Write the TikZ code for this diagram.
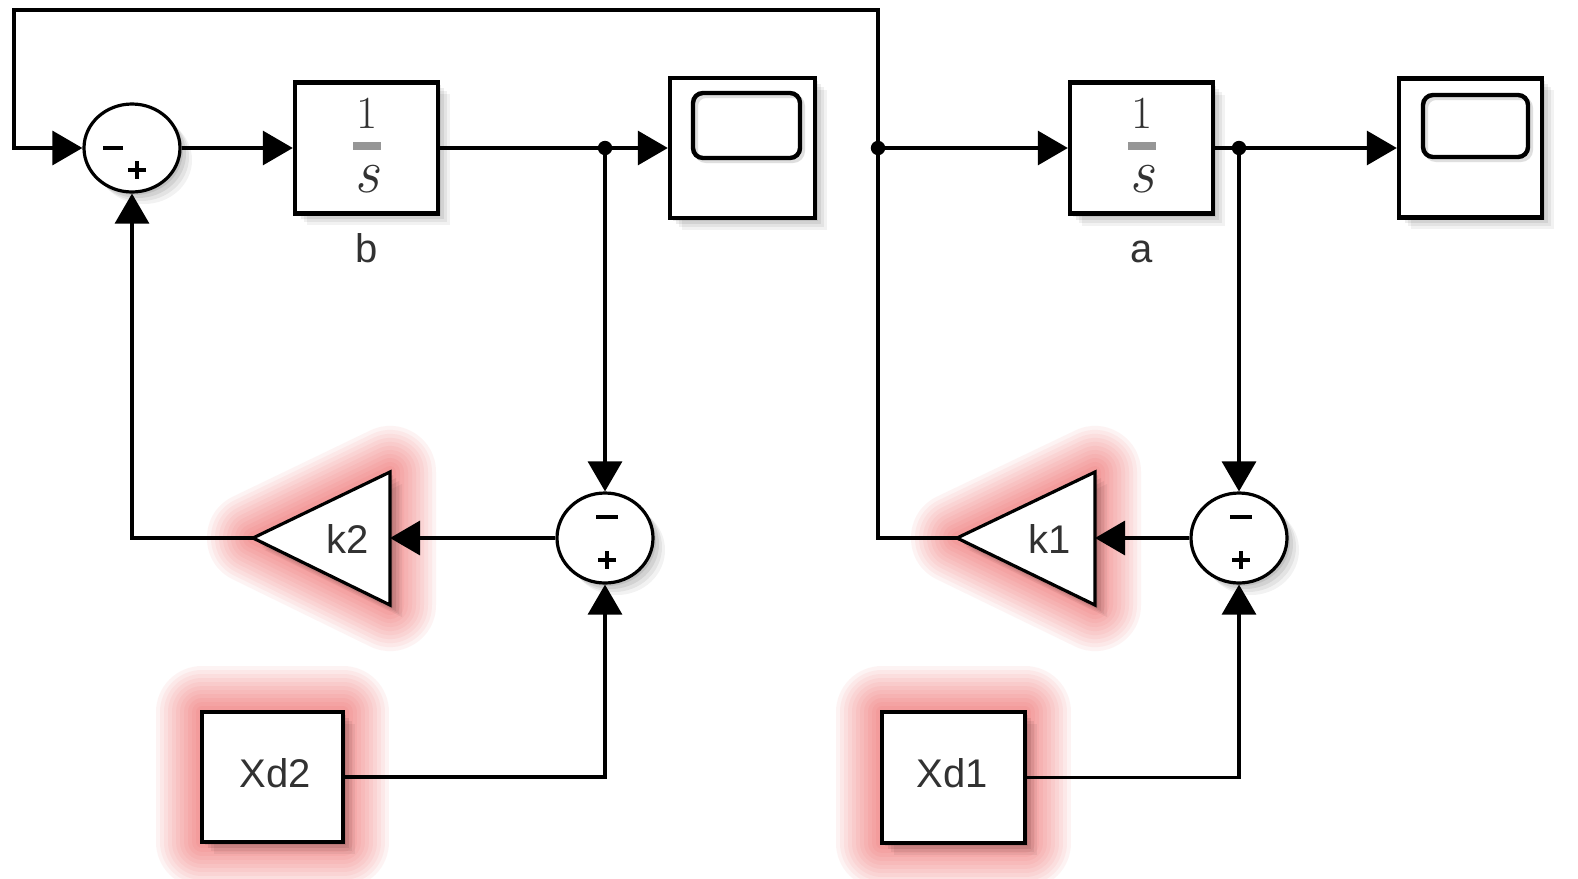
\documentclass[tikz,border=0pt]{standalone}
\usepackage{fontspec}
\newfontfamily\arialf{Liberation Sans}
\usetikzlibrary{arrows.meta,shapes.geometric,calc}
\definecolor{glowred}{RGB}{235,50,50}
\definecolor{labelgray}{RGB}{50,50,50}
\definecolor{bargray}{RGB}{150,150,150}
\newcommand\softshadow[1]{\foreach \d/\o in {12/0.05,9/0.06,6/0.07,3/0.08}{\fill[black,opacity=\o,shift={(\d,\d)}] #1;}}
\newcommand\glowpath[1]{\foreach \w in {46,42,38,34,30,26,22,18,14,10,6}{\draw[glowred,opacity=0.055,line width=\w pt,line join=round] #1;}}
\tikzset{
  wire/.style={line width=1.6pt,black},
  arr/.style={wire,-{Triangle[length=15pt,width=17pt]}},
  blockbox/.style={draw=black,line width=2.2pt,fill=white,inner sep=0pt},
  sumnode/.style={ellipse,draw=black,line width=1.6pt,fill=white,inner sep=0pt,minimum width=48pt,minimum height=44pt},
  signline/.style={line width=1.6pt,black},
  lbl/.style={font=\arialf\fontsize{20}{24}\selectfont,text=labelgray,inner sep=0pt},
  dotmark/.style={fill=black}
}
\begin{document}
\begin{tikzpicture}[x=0.5pt,y=-0.5pt]
\useasboundingbox (0,0) rectangle (1578,878);
\fill[white] (0,0) rectangle (1578,878);

% shadows and glows
\softshadow{(295,82) rectangle (438,213)}
\softshadow{(670,78) rectangle (815,218)}
\softshadow{(1070,83) rectangle (1213,214)}
\softshadow{(1399,78) rectangle (1542,217)}
\softshadow{(132,148) ellipse [x radius=48, y radius=44]}
\softshadow{(605,538) ellipse [x radius=48, y radius=45]}
\softshadow{(1239,538) ellipse [x radius=48, y radius=45]}
\glowpath{(202,712) rectangle (343,842)}
\glowpath{(882,712) rectangle (1025,843)}
\glowpath{(253,538) -- (390,472) -- (390,605) -- cycle}
\glowpath{(957,538) -- (1095,472) -- (1095,605) -- cycle}
\softshadow{(202,712) rectangle (343,842)}
\softshadow{(882,712) rectangle (1025,843)}
\softshadow{(253,538) -- (390,472) -- (390,605) -- cycle}
\softshadow{(957,538) -- (1095,472) -- (1095,605) -- cycle}

% blocks
\node[blockbox,minimum width=71.5pt,minimum height=65.5pt] (ib) at (366.5,148) {};
\node[blockbox,minimum width=71.5pt,minimum height=65.5pt] (ia) at (1141.5,148) {};
\node[blockbox,minimum width=72.5pt,minimum height=70pt] (sc1) at (742.5,148) {};
\node[blockbox,minimum width=71.5pt,minimum height=69.5pt] (sc2) at (1470.5,148) {};
\node[sumnode] (s1) at (132,148) {};
\node[sumnode,minimum height=45pt] (s2) at (605,538) {};
\node[sumnode,minimum height=45pt] (s3) at (1239,538) {};
\node[blockbox,minimum width=70.5pt,minimum height=65pt] (xd2) at (272.5,777) {};
\node[blockbox,minimum width=71.5pt,minimum height=65.5pt] (xd1) at (953.5,777.5) {};
\filldraw[draw=black,fill=white,line width=1.6pt,line join=miter] (253,538) -- (390,472) -- (390,605) -- cycle;
\filldraw[draw=black,fill=white,line width=1.6pt,line join=miter] (957,538) -- (1095,472) -- (1095,605) -- cycle;
\coordinate (k2in) at (390,538);
\coordinate (k2out) at (253,538);
\coordinate (k1in) at (1095,538);
\coordinate (k1out) at (957,538);

% scope screens
\draw[gray!25,line width=2pt,rounded corners=5pt] (696,96) rectangle (803,161);
\draw[gray!25,line width=2pt,rounded corners=5pt] (1426,98) rectangle (1531,160);
\draw[line width=2.2pt,rounded corners=5pt] (693,93) rectangle (800,158);
\draw[line width=2.2pt,rounded corners=5pt] (1423,95) rectangle (1528,157);

% integrator contents
\foreach \n in {ib,ia}{
  \node[anchor=base,inner sep=0pt,text=labelgray,font=\fontsize{23}{24}\selectfont] at ($(\n.center)+(1,-20)$) {1};
  \fill[bargray] ($(\n.center)+(-14,-6)$) rectangle ($(\n.center)+(14,2)$);
  \node[anchor=base,inner sep=0pt,text=labelgray,font=\fontsize{31}{32}\selectfont\itshape] at ($(\n.center)+(0,44)$) {s};
}
\node[lbl,anchor=base] at (367,262) {b};
\node[lbl,anchor=base] at (1142,262) {a};
\node[lbl,anchor=base] at (275,787) {Xd2};
\node[lbl,anchor=base] at (952,787) {Xd1};
\node[lbl,anchor=base] at (348,553) {k2};
\node[lbl,anchor=base] at (1050,553) {k1};

% sum signs
\draw[signline] ($(s1)+(-29,0)$) -- ($(s1)+(-9,0)$);
\draw[signline] ($(s1)+(-4,22)$) -- ($(s1)+(14,22)$);
\draw[signline] ($(s1)+(5,13)$) -- ($(s1)+(5,31)$);
\foreach \s in {s2,s3}{
  \draw[signline] ($(\s)+(-9,-21)$) -- ($(\s)+(13,-21)$);
  \draw[signline] ($(\s)+(-7,22)$) -- ($(\s)+(11,22)$);
  \draw[signline] ($(\s)+(2,13)$) -- ($(\s)+(2,31)$);
}

% connectors
\coordinate (d1) at (605,148);
\coordinate (d2) at (878,148);
\coordinate (d3) at (1239,148);
\coordinate (tr) at (878,10);
\coordinate (tl) at (14,10);
\draw[arr] (s1.east) -- (ib.west);
\draw[wire] (ib.east) -- (d1);
\draw[arr] (d1) -- (sc1.west);
\draw[arr] (d1) -- (s2.north);
\draw[arr] (s2.west) -- (k2in);
\draw[arr] (k2out) -| (s1.south);
\draw[arr] (xd2.east) -| (s2.south);
\draw[wire] (k1out) -| (d2);
\draw[arr] (d2) -- (tr) -- (tl) |- (s1.west);
\draw[arr] (d2) -- (ia.west);
\draw[wire] (ia.east) -- (d3);
\draw[arr] (d3) -- (sc2.west);
\draw[arr] (d3) -- (s3.north);
\draw[arr] (s3.west) -- (k1in);
\draw[arr] (xd1.east) -| (s3.south);
\foreach \d in {d1,d2,d3}{\fill[dotmark] (\d) circle[radius=3.6pt];}
\end{tikzpicture}
\end{document}
